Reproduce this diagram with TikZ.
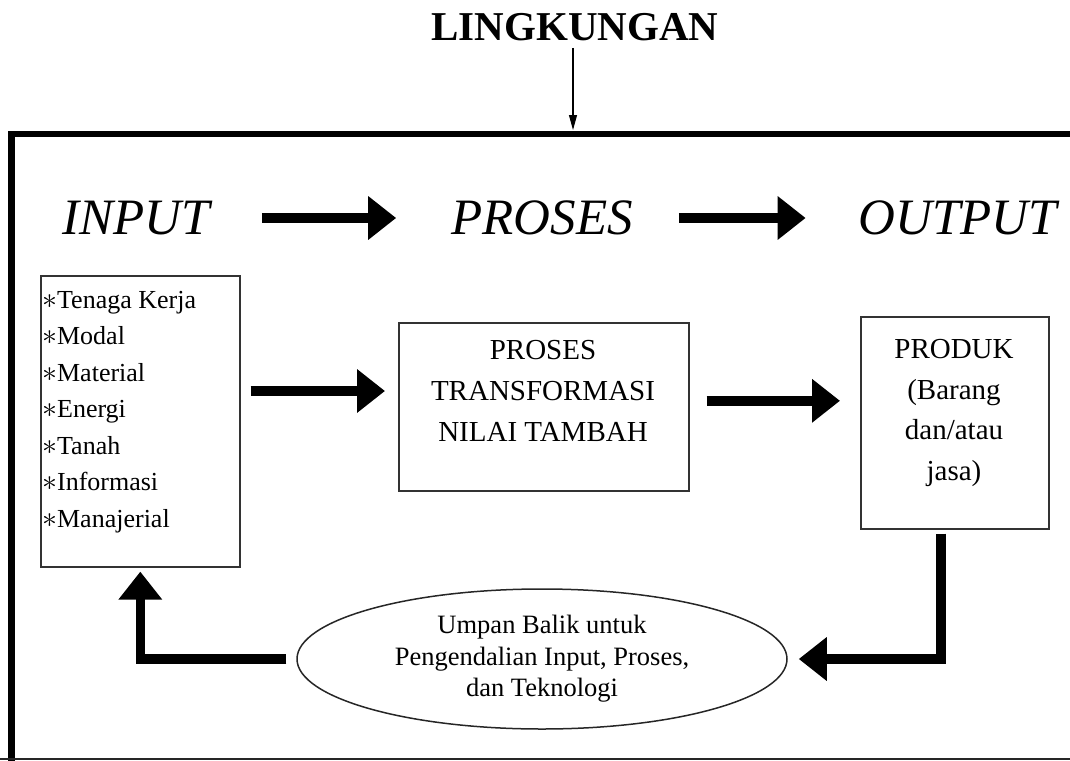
\documentclass[tikz,border=0pt]{standalone}
\usepackage{fontspec}
\setmainfont{Liberation Serif}
\usetikzlibrary{arrows.meta,shapes.geometric}
\newcommand{\fs}[2]{\fontsize{#1pt}{#2pt}\selectfont}
\newcommand{\bul}{\scalebox{1.2}{$\ast$}}
\begin{document}
\begin{tikzpicture}[x=1pt,y=-1pt,
  boxline/.style={draw=black!80, line width=1.6pt, inner sep=0pt},
  bigarrow/.style={line width=9.5pt, line join=miter,
    -{Triangle[width=42pt,length=28pt]}},
  thinarrow/.style={line width=1.1pt, -{Triangle[width=8pt,length=15pt]}},
  frame/.style={line width=6.5pt, line join=miter},
  heading/.style={inner sep=0pt, font=\fs{51}{51}\itshape},
  plain/.style={inner sep=0pt, align=center}]

\clip (0,0) rectangle (1070,760);

% surrounding environment frame
\draw[frame] (1090,134) -- (11.5,134) -- (11.5,780);
\draw[line width=2.2pt, black!85] (0,759) -- (1090,759);
\coordinate (ftop) at (573,130);

% environment title
\node[inner sep=0pt, outer sep=0pt] (env) at (575,27) {\fs{41}{41}\bfseries LINGKUNGAN};
\coordinate (envfoot) at (573,48);
\draw[thinarrow] (envfoot) -- (ftop);

% stage headings
\node[heading] (tin) at (136,218) {INPUT};
\node[heading] (tpr) at (542,218) {PROSES};
\node[heading] (tout) at (958,218) {OUTPUT};
\draw[bigarrow, shorten <=52pt, shorten >=55pt] (tin.east) -- (tpr.west);
\draw[bigarrow, shorten <=46pt, shorten >=53pt] (tpr.east) -- (tout.west);

% input resources
\node[boxline, minimum width=199pt, minimum height=291pt, anchor=north west]
  (inbox) at (40,275) {};
\node[inner sep=0pt, anchor=north west, align=left, font=\fs{26}{36.5}]
  (inlist) at (42,291) {%
  \bul Tenaga Kerja\\ \bul Modal\\ \bul Material\\ \bul Energi\\
  \bul Tanah\\ \bul Informasi\\ \bul Manajerial};

% transformation process
\node[boxline, minimum width=290pt, minimum height=168pt, anchor=north west]
  (proc) at (398,322) {};
\node[plain, font=\fs{29}{41}] (proct) at (543,391)
  {PROSES\\TRANSFORMASI\\NILAI TAMBAH};

% product
\node[boxline, minimum width=188pt, minimum height=212pt, anchor=north west]
  (prod) at (860,316) {};
\node[plain, font=\fs{29}{40.5}] (prodt) at (954,413)
  {PRODUK\\(Barang\\dan/atau\\jasa)};

% feedback
\node[ellipse, draw=black!85, line width=1.5pt, inner sep=0pt,
  minimum width=490pt, minimum height=140pt, align=center, font=\fs{26.5}{31.5}]
  (fb) at (542,659)
  {Umpan Balik untuk\\Pengendalian Input, Proses,\\dan Teknologi};

% flows
\draw[bigarrow, shorten <=10pt, shorten >=13pt] (inbox.east |- proct) -- (proc.west |- proct);
\draw[bigarrow, shorten <=17pt, shorten >=20pt] ([yshift=6pt]proc.east) -- ([yshift=6pt]proc.east -| prod.west);
\draw[bigarrow] ([xshift=-14pt,yshift=-4pt]prod.south) |- ([xshift=11pt]fb.east);
\draw[bigarrow] ([xshift=-10pt]fb.west) -| ([yshift=-4pt]inbox.south);
\end{tikzpicture}
\end{document}
